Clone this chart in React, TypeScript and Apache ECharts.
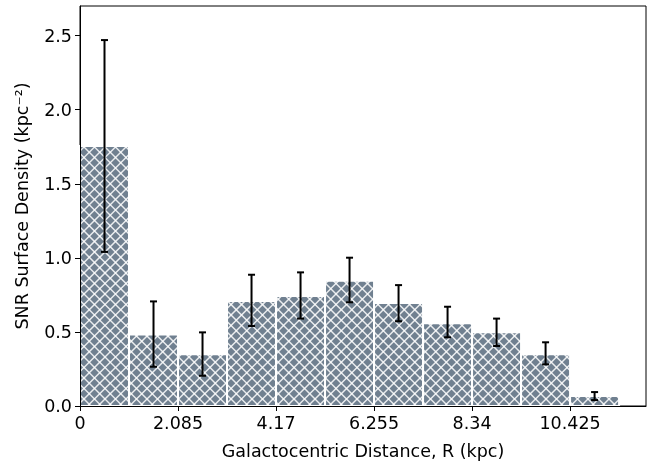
import React, { useEffect, useRef } from 'react';
import * as echarts from 'echarts';

const binWidth = 1.0425;
const binStarts = [0, 1.0425, 2.085, 3.1275, 4.17, 5.2125, 6.255, 7.2975, 8.34, 9.3825, 10.425];
const density = [1.755, 0.483, 0.349, 0.708, 0.742, 0.845, 0.695, 0.558, 0.497, 0.349, 0.067];
const errLow = [1.04, 0.265, 0.204, 0.54, 0.59, 0.7, 0.572, 0.464, 0.405, 0.281, 0.04];
const errHigh = [2.47, 0.706, 0.497, 0.886, 0.902, 1.001, 0.816, 0.67, 0.59, 0.43, 0.094];
const xTickLabels = ['0', '2.085', '4.17', '6.255', '8.34', '10.425'];
const yTickLabels = ['0.0', '0.5', '1.0', '1.5', '2.0', '2.5'];

const HATCH_P = 10.5;

function hatchLines(x0: number, y0: number, x1: number, y1: number) {
  const segs: any[] = [];
  const st = { stroke: 'rgba(255,255,255,0.85)', lineWidth: 1.5 };
  // family x - y = c
  const kA0 = Math.ceil((x0 - y1) / HATCH_P);
  const kA1 = Math.floor((x1 - y0) / HATCH_P);
  for (let k = kA0; k <= kA1; k++) {
    const c = k * HATCH_P;
    const xs = Math.max(x0, y0 + c);
    const xe = Math.min(x1, y1 + c);
    if (xe > xs) segs.push({ type: 'line', shape: { x1: xs, y1: xs - c, x2: xe, y2: xe - c }, style: st });
  }
  // family x + y = c
  const kB0 = Math.ceil((x0 + y0) / HATCH_P);
  const kB1 = Math.floor((x1 + y1) / HATCH_P);
  for (let k = kB0; k <= kB1; k++) {
    const c = k * HATCH_P;
    const xs = Math.max(x0, c - y1);
    const xe = Math.min(x1, c - y0);
    if (xe > xs) segs.push({ type: 'line', shape: { x1: xs, y1: c - xs, x2: xe, y2: c - xe }, style: st });
  }
  return segs;
}

export default function App() {
  const ref = useRef<HTMLDivElement>(null);
  useEffect(() => {
    if (!ref.current) return;
    const chart = echarts.init(ref.current, undefined, { renderer: 'svg' });
    const font = 'DejaVu Sans';
    const fs = 17.5;
    const xTickValues = xTickLabels.map(Number);
    const yTickValues = yTickLabels.map(Number);
    const barData = binStarts.map((s, i) => [s, s + binWidth, density[i]]);
    const errData = binStarts.map((s, i) => [s + binWidth / 2, errLow[i], errHigh[i]]);
    chart.setOption({
      animation: false,
      grid: {
        left: 80, right: 11, top: 6, bottom: 56,
        outerBoundsMode: 'none',
        show: true, borderColor: '#000', borderWidth: 1, backgroundColor: 'transparent',
      },
      xAxis: {
        type: 'value', min: 0, max: 12.04, z: 5,
        name: 'Galactocentric Distance, R (kpc)', nameLocation: 'middle', nameGap: 36,
        nameTextStyle: { fontSize: fs, color: '#000', fontFamily: font },
        axisLine: { show: true, lineStyle: { color: '#000', width: 1 } },
        axisTick: { show: true, length: 5, lineStyle: { color: '#000', width: 1 }, customValues: xTickValues },
        axisLabel: {
          fontSize: fs, color: '#000', fontFamily: font, margin: 8,
          customValues: xTickValues,
          formatter: (v: number) => {
            const i = xTickValues.findIndex((t) => Math.abs(t - v) < 1e-6);
            return i >= 0 ? xTickLabels[i] : '';
          },
        },
        splitLine: { show: false },
      },
      yAxis: {
        type: 'value', min: 0, max: 2.7, z: 5,
        name: 'SNR Surface Density (kpc\u207B\u00B2)', nameLocation: 'middle', nameGap: 49,
        nameTextStyle: { fontSize: fs, color: '#000', fontFamily: font },
        axisLine: { show: true, lineStyle: { color: '#000', width: 1 } },
        axisTick: { show: true, length: 5, lineStyle: { color: '#000', width: 1 }, customValues: yTickValues },
        axisLabel: {
          fontSize: fs, color: '#000', fontFamily: font, margin: 8,
          customValues: yTickValues,
          formatter: (v: number) => {
            const i = yTickValues.findIndex((t) => Math.abs(t - v) < 1e-6);
            return i >= 0 ? yTickLabels[i] : '';
          },
        },
        splitLine: { show: false },
      },
      series: [
        {
          type: 'custom', z: 2,
          data: barData,
          encode: { x: [0, 1], y: 2 },
          renderItem: (params: any, api: any) => {
            const a = api.coord([api.value(0), 0]);
            const b = api.coord([api.value(1), api.value(2)]);
            const x0 = a[0], x1 = b[0], y0 = b[1], y1 = a[1];
            return {
              type: 'group',
              children: [
                {
                  type: 'rect',
                  shape: { x: x0, y: y0, width: x1 - x0, height: y1 - y0 },
                  style: { fill: '#708090', stroke: 'none' },
                },
                ...hatchLines(x0, y0, x1, y1),
                {
                  type: 'rect',
                  shape: { x: x0, y: y0, width: x1 - x0, height: y1 - y0 },
                  style: { fill: 'none', stroke: '#fff', lineWidth: 2 },
                },
              ],
            };
          },
        },
        {
          type: 'custom', z: 3,
          data: errData,
          encode: { x: 0, y: [1, 2] },
          renderItem: (params: any, api: any) => {
            const lo = api.coord([api.value(0), api.value(1)]);
            const hi = api.coord([api.value(0), api.value(2)]);
            const cap = 3.5;
            const st = { stroke: '#000', lineWidth: 2 };
            return {
              type: 'group',
              children: [
                { type: 'line', shape: { x1: lo[0], y1: lo[1], x2: hi[0], y2: hi[1] }, style: st },
                { type: 'line', shape: { x1: lo[0] - cap, y1: lo[1], x2: lo[0] + cap, y2: lo[1] }, style: st },
                { type: 'line', shape: { x1: hi[0] - cap, y1: hi[1], x2: hi[0] + cap, y2: hi[1] }, style: st },
              ],
            };
          },
        },
      ],
    });
    return () => chart.dispose();
  }, []);
  return <div ref={ref} style={{ position: 'fixed', left: 0, top: 0, width: 657, height: 462 }} />;
}
